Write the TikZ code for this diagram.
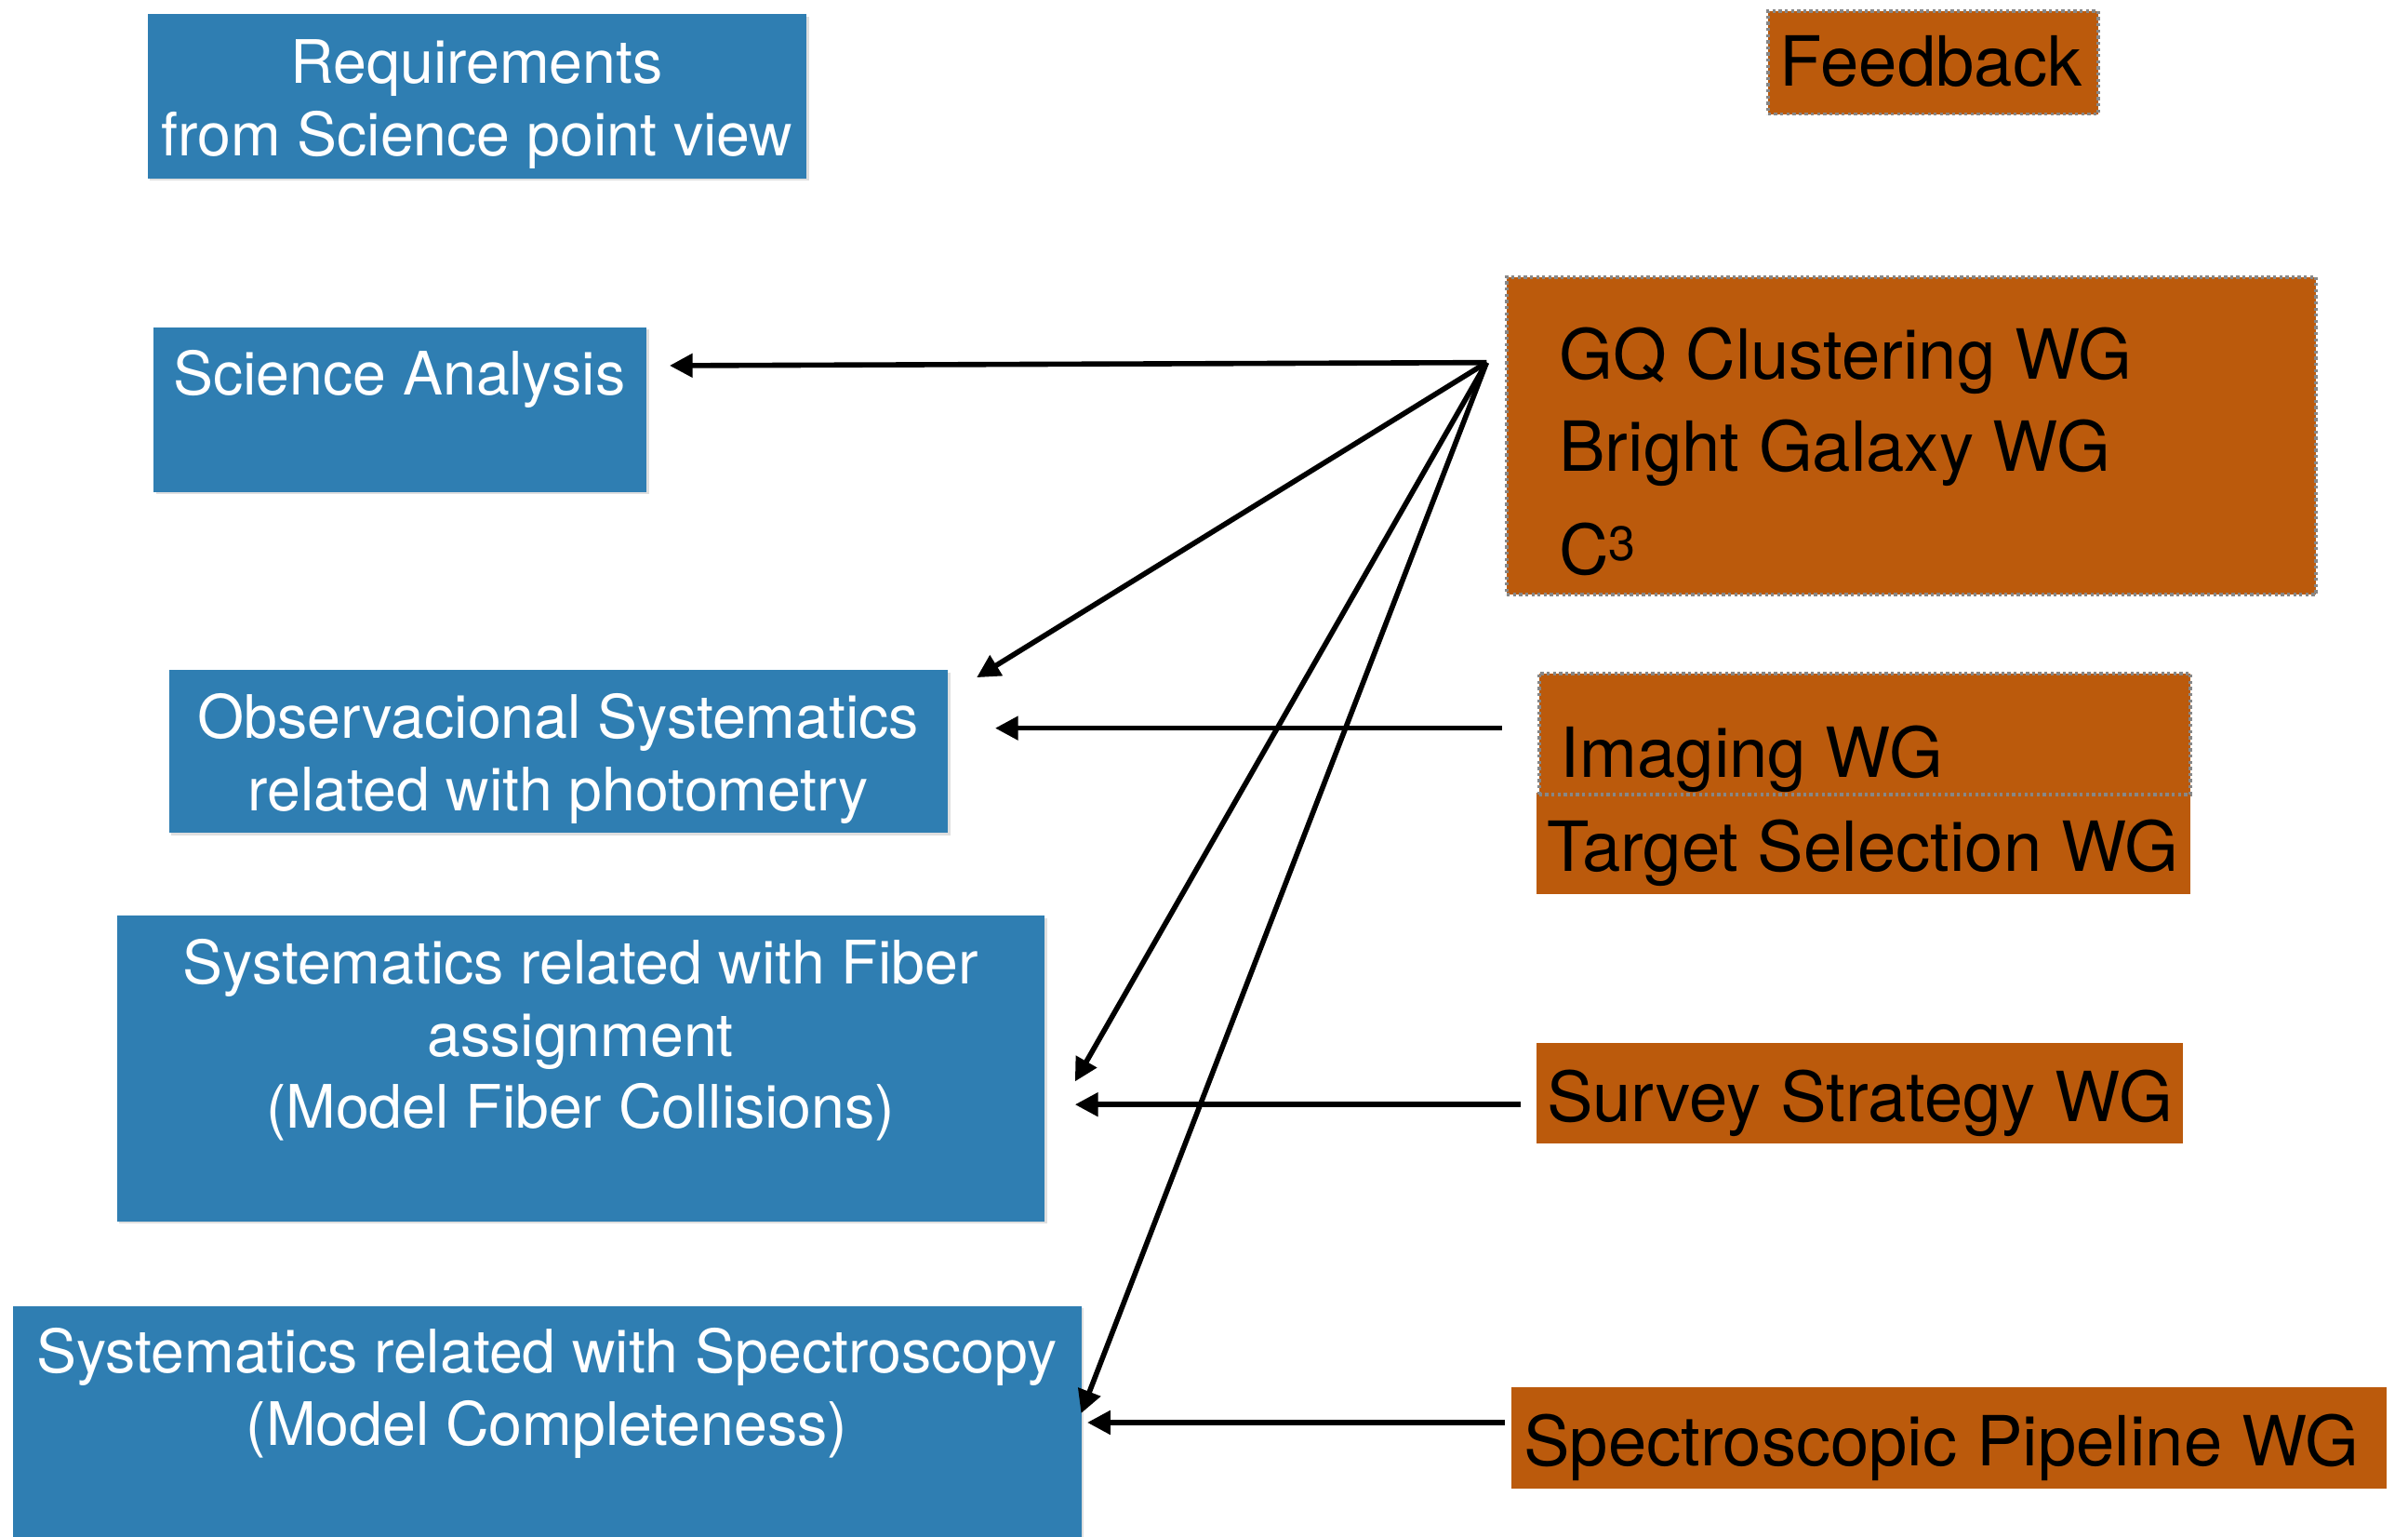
\documentclass[tikz,border=0pt]{standalone}
\usepackage{fontspec}
\setmainfont{TeX Gyre Heros}
\usetikzlibrary{arrows.meta,shadows}
\definecolor{wgblue}{RGB}{47,126,178}
\definecolor{wgorange}{RGB}{187,90,12}
\definecolor{dotgray}{RGB}{135,135,135}

\begin{document}
\begin{tikzpicture}[x=1pt, y=-1pt,
  box/.style={rectangle, inner sep=0pt, anchor=north west},
  bluebox/.style={box, fill=wgblue, drop shadow={shadow xshift=1.5pt, shadow yshift=-1.5pt, opacity=.25}},
  orangebox/.style={box, fill=wgorange},
  dotbox/.style={orangebox, draw=dotgray, line width=2.4pt, dash pattern=on 2pt off 2pt},
  bluetext/.style={white, align=center, inner sep=0pt, font=\fontsize{39}{47}\selectfont},
  wgtext/.style={black, anchor=base west, inner sep=0pt, font=\fontsize{45}{54}\selectfont},
  fb/.style={-{Triangle[length=15pt,width=15pt]}, line width=3.4pt}]
\clip (0,0) rectangle (1568,1000);

% science side
\node[bluebox, minimum width=429pt, minimum height=107pt] (req) at (96,9) {};
\node[bluebox, minimum width=321pt, minimum height=107pt] (sa) at (100,213) {};
\node[bluebox, minimum width=507pt, minimum height=106pt] (obs) at (110,436) {};
\node[bluebox, minimum width=604pt, minimum height=199pt] (fib) at (76,596) {};
\node[bluebox, minimum width=696pt, minimum height=170pt] (spec) at (8,850) {};

\node[bluetext] (req-t) at (310.5,68) {Requirements\\from Science point view};
\node[bluetext] (sa-t) at (260,247) {Science Analysis};
\node[bluetext] (obs-t) at (363.5,494) {Observacional Systematics\\related with photometry};
\node[bluetext] (fib-t) at (378,677) {Systematics related with Fiber\\assignment\\(Model Fiber Collisions)};
\node[bluetext] (spec-t) at (356,907) {Systematics related with Spectroscopy\\(Model Completeness)};

% working groups
\node[dotbox, minimum width=215pt, minimum height=67pt] (fbk) at (1150,6) {};
\node[dotbox, minimum width=527pt, minimum height=207pt] (gq) at (980,179) {};
\node[orangebox, minimum width=426pt, minimum height=66pt] (tsel) at (1000,516) {};
\node[dotbox, minimum width=424pt, minimum height=79pt] (img) at (1001,437) {};
\node[orangebox, minimum width=421pt, minimum height=65pt] (svy) at (1000,679) {};
\node[orangebox, minimum width=570pt, minimum height=66pt] (spl) at (984,903) {};

\node[wgtext, anchor=base] (fbk-t) at (1257.5,56) {Feedback};
\node[wgtext] (gq-a) at (1015,247) {GQ Clustering WG};
\node[wgtext] (gq-b) at (1015,307) {Bright Galaxy WG};
\node[wgtext] (gq-c) at (1015,374) {C\textsuperscript{3}};
\node[wgtext] (img-t) at (1016,506) {Imaging WG};
\node[wgtext] (tsel-t) at (1007,567) {Target Selection WG};
\node[wgtext] (svy-t) at (1007,730) {Survey Strategy WG};
\node[wgtext] (spl-t) at (992,954) {Spectroscopic Pipeline WG};

% arrows
\coordinate (hub) at (968,236);
\coordinate (sa-in) at (436,238);
\coordinate (obs-in) at (636,441);
\coordinate (fib-in) at (700,704);
\coordinate (spec-in) at (704,920);
\coordinate (img-out) at (978,474);
\coordinate (obs-in2) at (648,474);
\coordinate (svy-out) at (990,719);
\coordinate (fib-in2) at (700,719);
\coordinate (spl-out) at (980,926);
\coordinate (spec-in2) at (708,926);
\draw[fb] (hub) -- (sa-in);
\draw[fb] (hub) -- (obs-in);
\draw[fb] (hub) -- (fib-in);
\draw[fb] (hub) -- (spec-in);
\draw[fb] (img-out) -- (obs-in2);
\draw[fb] (svy-out) -- (fib-in2);
\draw[fb] (spl-out) -- (spec-in2);
\end{tikzpicture}
\end{document}
